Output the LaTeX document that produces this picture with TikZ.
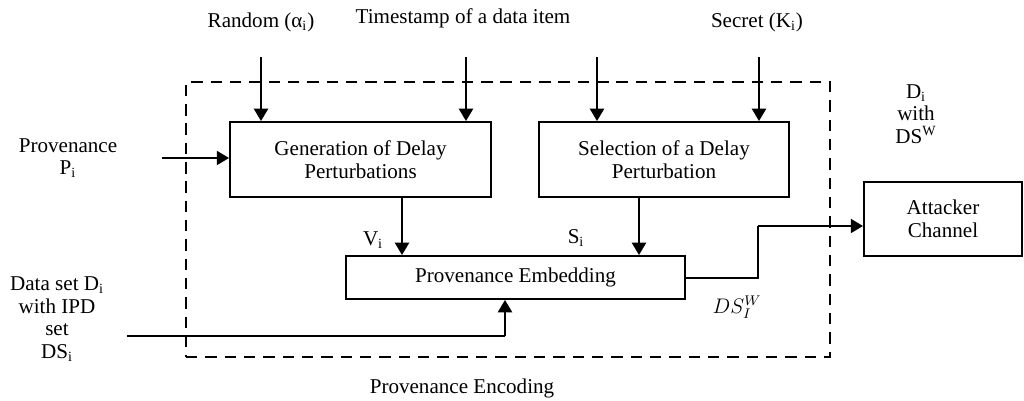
\documentclass[tikz,border=0pt]{standalone}
\usepackage{fontspec}
\setmainfont{Liberation Serif}
\usetikzlibrary{arrows.meta}
\begin{document}
\begin{tikzpicture}[x=0.02cm,y=-0.02cm,
  font=\fontsize{12}{12.8}\selectfont,
  box/.style={draw,line width=1.1pt,inner sep=0pt,align=center},
  frame/.style={draw,line width=1.1pt,dash pattern=on 6.5pt off 4.5pt,inner sep=0pt},
  arr/.style={line width=1.1pt,-{Triangle[length=7pt,width=8pt]}},
  wire/.style={line width=1.1pt},
  lbl/.style={align=center,inner sep=0pt}]
\useasboundingbox (0,0) rectangle (1024,401);

% dashed encoding boundary
\node[frame,minimum width=12.88cm,minimum height=5.5cm] (enc) at (508,219.5) {};

% processing blocks
\node[box,minimum width=5.22cm,minimum height=1.5cm] (gen) at (360.5,159.5) {Generation of Delay\\Perturbations};
\node[box,minimum width=5cm,minimum height=1.5cm] (sel) at (664,159.5) {Selection of a Delay\\Perturbation};
\node[box,minimum width=6.78cm,minimum height=0.86cm] (emb) at (515.5,277.5) {Provenance Embedding};
\node[box,minimum width=3.16cm,minimum height=1.48cm] (att) at (943,219) {Attacker\\Channel};

% inputs at the top
\node[lbl] (rnd) at (261,22) {Random (α\textsubscript{i})};
\node[lbl] (ts) at (463,18) {Timestamp of a data item};
\node[lbl] (sec) at (757,22) {Secret (K\textsubscript{i})};
\coordinate (rA) at (261,57);
\coordinate (tA) at (466,57);
\coordinate (sA) at (597,57);
\coordinate (sB) at (759,57);
\draw[arr] (rA) -- (rA |- gen.north);
\draw[arr] (tA) -- (tA |- gen.north);
\draw[arr] (sA) -- (sA |- sel.north);
\draw[arr] (sB) -- (sB |- sel.north);

% provenance input
\node[lbl] (prov) at (68,158) {Provenance\\P\textsubscript{i}};
\coordinate (pA) at (162,158);
\draw[arr] (pA) -- (pA -| gen.west);

% intermediate signals
\coordinate (vX) at (402,0);
\coordinate (sX) at (639,0);
\draw[arr] (gen.south -| vX) -- (emb.north -| vX);
\draw[arr] (sel.south -| sX) -- (emb.north -| sX);
\node[lbl] (vi) at (373,240) {V\textsubscript{i}};
\node[lbl] (si) at (576,238) {S\textsubscript{i}};

% data set input
\node[lbl] (ds) at (57,319) {Data set D\textsubscript{i}\\with IPD\\set\\DS\textsubscript{i}};
\coordinate (dA) at (127,336);
\coordinate (dX) at (505,336);
\draw[wire] (dA) -- (dX);
\draw[arr] (dX) -- (dX |- emb.south);

% watermarked output to the channel
\coordinate (oA) at (758,278);
\coordinate (oB) at (758,226);
\draw[wire] (emb.east |- oA) -- (oA) -- (oB);
\draw[arr] (oB) -- (oB -| att.west);
\node[lbl] (dsw) at (737,307) {$DS_I^W$};
\node[lbl] (dw) at (916,114) {D\textsubscript{i}\\with\\DS\textsuperscript{W}};

% block caption
\node[lbl] (cap) at (462,388) {Provenance Encoding};
\end{tikzpicture}
\end{document}
